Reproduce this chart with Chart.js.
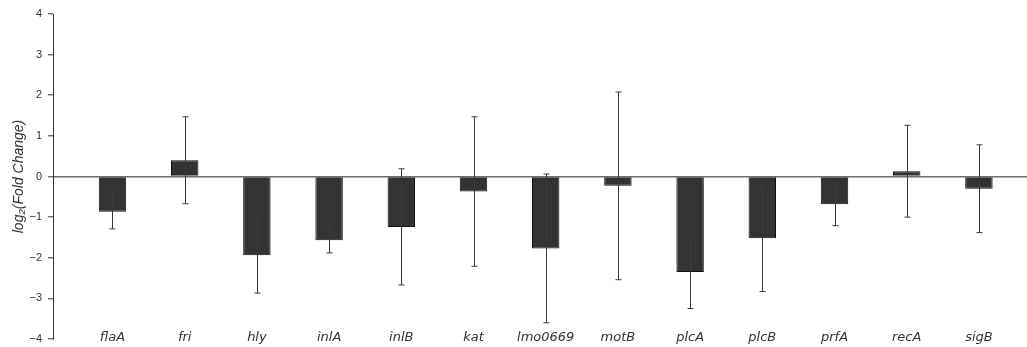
<!DOCTYPE html>
<html>
<head>
<meta charset="utf-8">
<title>log2 fold change</title>
<script src="https://cdn.jsdelivr.net/npm/chart.js@4"></script>
<style>
  html, body { margin: 0; padding: 0; background: #fff; }
  #wrap { width: 1027px; height: 347px; position: relative; }
</style>
</head>
<body>
<div id="wrap"><canvas id="fcChart"></canvas></div>
<script>
// --- Data ---
const genes = ['flaA', 'fri', 'hly', 'inlA', 'inlB', 'kat', 'lmo0669', 'motB', 'plcA', 'plcB', 'prfA', 'recA', 'sigB'];
const meanFC = [-0.87, 0.40, -1.94, -1.57, -1.24, -0.37, -1.77, -0.23, -2.35, -1.52, -0.68, 0.13, -0.30];
const errFC = [0.42, 1.07, 0.93, 0.31, 1.43, 1.84, 1.83, 2.31, 0.90, 1.31, 0.53, 1.13, 1.08];
const yTicks = [-4, -3, -2, -1, 0, 1, 2, 3, 4];

const ink = '#333333';

// error bars on top of the bars (mean +/- err) and the gene names,
// which sit just above the bottom edge of the plot
const errorBars = {
    id: 'errorBars',
    afterDatasetsDraw(chart) {
        const { ctx, chartArea, scales: { x, y } } = chart;
        ctx.save();
        ctx.strokeStyle = '#3a3a3a';
        ctx.lineWidth = 1;
        meanFC.forEach((m, i) => {
            const px = Math.round(x.getPixelForValue(i)) + 0.5;
            const top = y.getPixelForValue(m + errFC[i]);
            const bot = y.getPixelForValue(m - errFC[i]);
            ctx.beginPath();
            ctx.moveTo(px, top);
            ctx.lineTo(px, bot);
            ctx.moveTo(px - 3, top);
            ctx.lineTo(px + 3, top);
            ctx.moveTo(px - 3, bot);
            ctx.lineTo(px + 3, bot);
            ctx.stroke();
        });

        ctx.fillStyle = ink;
        ctx.font = 'italic 13px "DejaVu Sans"';
        ctx.textAlign = 'center';
        ctx.textBaseline = 'middle';
        genes.forEach((g, i) => {
            ctx.fillText(g, x.getPixelForValue(i), chartArea.bottom - 1);
        });
        ctx.restore();
    }
};

const ctx = document.getElementById('fcChart').getContext('2d');
new Chart(ctx, {
    type: 'bar',
    data: {
        datasets: [{
            data: genes.map((g, i) => ({ x: i, y: meanFC[i] })),
            backgroundColor: ink,
            borderColor: '#111',
            borderWidth: 1,
            barPercentage: 0.38,
            categoryPercentage: 1
        }]
    },
    options: {
        responsive: true,
        maintainAspectRatio: false,
        animation: false,
        layout: { padding: { top: 14, right: 0, left: 0, bottom: 0 } },
        plugins: { legend: { display: false }, tooltip: { enabled: false } },
        scales: {
            x: {
                type: 'linear',
                offset: false,
                min: -0.824,
                max: 12.666,
                afterFit: s => { s.height = 8; },
                grid: { display: false, drawTicks: false },
                border: { display: false },
                ticks: { display: false }
            },
            y: {
                min: -4,
                max: 4,
                afterFit: s => {
                    s.width = 53;
                    s.paddingTop = 0;
                    s.paddingBottom = 0;
                },
                afterBuildTicks: s => { s.ticks = yTicks.map(v => ({ value: v })); },
                border: { display: true, color: ink, width: 1 },
                grid: {
                    color: c => c.tick && c.tick.value === 0 ? '#6e6e6e' : 'rgba(0,0,0,0)',
                    lineWidth: 1.6,
                    tickColor: ink,
                    tickLength: 5,
                    tickWidth: 1
                },
                ticks: {
                    padding: 6,
                    color: ink,
                    font: { family: 'Liberation Sans', size: 11 },
                    callback: v => String(v).replace('-', '\u2212')
                },
                title: {
                    display: true,
                    text: 'log\u2082(Fold Change)',
                    color: ink,
                    padding: { top: 11, bottom: 0 },
                    font: { family: 'Liberation Sans', size: 14, style: 'italic' }
                }
            }
        }
    },
    plugins: [errorBars]
});
</script>
</body>
</html>
